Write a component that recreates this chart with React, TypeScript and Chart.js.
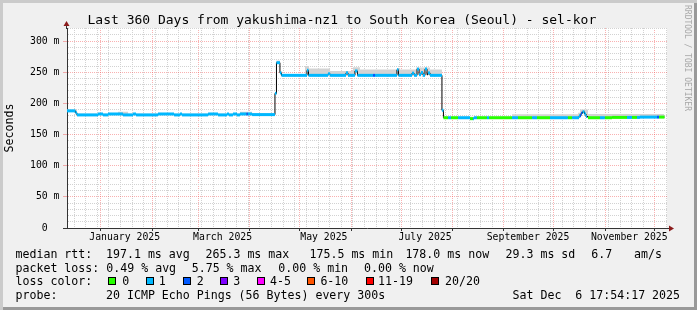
import React, { useEffect, useRef } from 'react';
import { Chart, registerables } from 'chart.js';

Chart.register(...registerables);

const FONT = '"DejaVu Sans Mono", monospace';

// x axis: days since window start (2024-12-11 17:54:17), 360 day window
const START_MS = Date.UTC(2024, 11, 11, 17, 54, 17);
const DAY_MS = 86400000;
const X_MAX = 361.5;
const DATA_END = 360;
const LABEL_OFFSET_DAYS = 14.5;

const monthLabels = ['January 2025', 'March 2025', 'May 2025', 'July 2025', 'September 2025', 'November 2025'];
const monthLabelMonths = [0, 2, 4, 6, 8, 10];

// y axis (milliseconds)
const Y_MAX = 321;
const yTickValues = [0, 50, 100, 150, 200, 250, 300];
const yTickLabels = ['0  ', '50 m', '100 m', '150 m', '200 m', '250 m', '300 m'];

// median rtt (ms), step changes
const medianDays = [
  0, 5.1, 6.0, 18.7, 21.7, 24.7, 33.7, 39.8, 41.6, 54.8, 64.5, 68.1, 69.3, 85.0, 91.0, 96.4, 97.6, 100.0, 102.4, 104.2, 111.5,
  125.3, 126.2, 128.3, 129.2, 144.6, 145.5, 157.3, 158.5, 168.1, 169.3, 173.5, 175.0, 198.8, 199.7, 207.9, 209.1, 210.9, 212.1,
  213.3, 214.5, 215.7, 216.9, 217.5, 218.7, 225.9,
  226.8, 242.8, 245.2, 308.5, 309.7, 310.6, 311.8, 312.7, 313.9, 328.4, 345.2,
];
const medianMs = [
  188, 185, 181.5, 183, 181.5, 183, 181.5, 183, 181.5, 183, 181.5, 183, 181.5, 183, 181.5, 183, 181.5, 183, 181.5, 183, 182,
  216, 265.3, 249, 245, 253, 245, 247.5, 245, 249, 245, 252, 245, 254, 245, 248.5, 245, 255, 246,
  249.5, 245, 255, 246, 249, 245, 189,
  177, 175.5, 177, 180, 184, 186.5, 183, 179, 177, 177.5, 178,
];

// packet loss bucket (index into lossColors), step changes
const lossDays = [
  0, 108.2, 109.0, 184.4, 185.6, 226.8, 229.6, 231.4, 235.6, 242.8, 244.6, 247.0, 253.0, 254.3, 268.1, 271.7, 280.2, 283.2,
  291.0, 301.8, 304.3, 309.1, 310.3, 313.3, 321.1, 324.1, 337.4, 340.4, 343.4, 355.5, 356.7,
];
const lossLevel = [
  1, 2, 1, 2, 1, 0, 1, 0, 1, 0, 1, 0, 1, 0, 1, 0, 1, 0,
  1, 0, 1, 2, 1, 0, 1, 0, 1, 0, 1, 2, 0,
];

// smoke (upper edge of ping spread, ms), step changes
const smokeDays = [
  0, 6.0, 30.7, 36.8, 104.2, 111.5, 125.3, 126.2, 128.3, 129.5, 143.4, 145.8, 158.5, 172.3, 176.5, 198.8, 200.6, 210.3,
  218.7, 225.9, 226.8, 268.1, 307.9, 309.1, 313.9,
];
const smokeHighMs = [
  190, 183.5, 186.5, 183.5, 186.5, 184, 218, 269, 251, 247, 260, 256, 252, 258, 254.5, 257, 254.5, 257.5,
  254.5, 190, 178.5, 182.5, 185, 190, 183,
];

const lossColors = ['#26ff00', '#00b8ff', '#0059ff', '#7e00ff', '#ff00ff', '#ff5500', '#ff0000', '#a10000'];
const lossNames = ['0', '1', '2', '3', '4-5', '6-10', '11-19', '20/20'];

const AXIS = '#333333';
const ARROW = '#8b1c1c';
const GRID_MINOR = '#d2d2d2';
const GRID_MAJOR = 'rgba(240,70,70,0.42)';
const SMOKE = '#d3d3d3';

// ---------- derived tables for chart.js ----------
type XT = { v: number; kind: 'week' | 'month' | 'label'; text: string };
const dayOf = (y: number, m: number, d: number) => (Date.UTC(y, m, d) - START_MS) / DAY_MS;
const monthStarts: number[] = [];
for (let m = 0; m < 12; m++) monthStarts.push(dayOf(2025, m, 1));
const xTicks: XT[] = [];
for (let t = Date.UTC(2024, 11, 16); ; t += 7 * DAY_MS) {
  const d = (t - START_MS) / DAY_MS;
  if (d > X_MAX) break;
  if (!monthStarts.some((ms) => Math.abs(ms - d) < 0.01)) xTicks.push({ v: d, kind: 'week', text: '' });
}
monthStarts.forEach((d) => xTicks.push({ v: d, kind: 'month', text: '' }));
monthLabelMonths.forEach((m, i) => xTicks.push({ v: dayOf(2025, m, 1) + LABEL_OFFSET_DAYS, kind: 'label', text: monthLabels[i] }));
xTicks.sort((a, b) => a.v - b.v);

const yGrid: number[] = [];
for (let v = 0; v <= 320; v += 10) yGrid.push(v);

const stepAt = (days: number[], vals: number[], d: number) => {
  let v = vals[0];
  for (let i = 0; i < days.length; i++) if (days[i] <= d + 1e-9) v = vals[i];
  return v;
};
const breaks = Array.from(new Set([...medianDays, ...lossDays])).filter((d) => d < DATA_END).sort((a, b) => a - b);
const pieces = breaks.map((a, i) => ({
  a,
  b: i + 1 < breaks.length ? breaks[i + 1] : DATA_END,
  v: stepAt(medianDays, medianMs, a),
  c: stepAt(lossDays, lossLevel, a),
}));
const pieceData: { x: number; y: number | null }[] = [];
pieces.forEach((p) => {
  pieceData.push({ x: p.a, y: p.v }, { x: p.b, y: p.v }, { x: p.b, y: null });
});
const medianData = medianDays.map((d, i) => ({ x: d, y: medianMs[i] }));
medianData.push({ x: DATA_END, y: medianMs[medianMs.length - 1] });
const smokeData = smokeDays.map((d, i) => ({ x: d, y: smokeHighMs[i] }));
smokeData.push({ x: DATA_END, y: smokeHighMs[smokeHighMs.length - 1] });

const plotBg = {
  id: 'plotBg',
  beforeDraw(chart: any) {
    const { ctx, chartArea } = chart;
    ctx.save();
    ctx.fillStyle = '#ffffff';
    ctx.fillRect(chartArea.left, chartArea.top, chartArea.right - chartArea.left, chartArea.bottom - chartArea.top);
    ctx.restore();
  },
};

const axisArrows = {
  id: 'axisArrows',
  afterDraw(chart: any) {
    const { ctx, chartArea } = chart;
    const { left, right, top, bottom } = chartArea;
    const lx = Math.round(left) - 0.5;
    const by = Math.round(bottom) + 0.5;
    ctx.save();
    ctx.strokeStyle = AXIS;
    ctx.lineWidth = 1;
    ctx.beginPath();
    ctx.moveTo(lx, top + 1);
    ctx.lineTo(lx, top - 3);
    ctx.moveTo(right - 1, by);
    ctx.lineTo(right + 3, by);
    ctx.moveTo(left - 4, by);
    ctx.lineTo(left, by);
    ctx.stroke();
    ctx.fillStyle = ARROW;
    ctx.beginPath();
    ctx.moveTo(lx, top - 7);
    ctx.lineTo(lx - 3, top - 2);
    ctx.lineTo(lx + 3, top - 2);
    ctx.closePath();
    ctx.fill();
    ctx.beginPath();
    ctx.moveTo(right + 7, by);
    ctx.lineTo(right + 2, by - 3);
    ctx.lineTo(right + 2, by + 3);
    ctx.closePath();
    ctx.fill();
    ctx.restore();
  },
};

const legendLines: { top: number; items: [number, string][] }[] = [
  {
    top: 246.5,
    items: [
      [15.5, 'median rtt:'], [106, '197.1 ms avg'], [205.5, '265.3 ms max'], [309.5, '175.5 ms min'],
      [405.4, '178.0 ms now'], [505.5, '29.3 ms sd'], [591.3, '6.7'], [634, 'am/s'],
    ],
  },
  {
    top: 260.5,
    items: [[15.5, 'packet loss:'], [106.3, '0.49 % avg'], [191.7, '5.75 % max'], [278.3, '0.00 % min'], [364, '0.00 % now']],
  },
  { top: 274.3, items: [[15.5, 'loss color:']] },
  {
    top: 288.3,
    items: [[15.5, 'probe:'], [106, '20 ICMP Echo Pings (56 Bytes) every 300s'], [512.5, 'Sat Dec  6 17:54:17 2025']],
  },
];
const lossBoxX = [108.3, 145.7, 182.7, 220, 257.3, 307.3, 365.7, 430.7];
const lossTextX = [122.3, 158.7, 196.7, 233.3, 270, 320.4, 378, 445];

export default function App() {
  const ref = useRef<HTMLCanvasElement>(null);

  useEffect(() => {
    document.body.style.margin = '0';
    const canvas = ref.current;
    if (!canvas) return;
    const kindAt = (i: number) => (xTicks[i] ? xTicks[i].kind : 'label');
    const chart = new Chart(canvas, {
      type: 'line',
      data: {
        datasets: [
          {
            label: 'median by loss',
            data: pieceData as any,
            borderWidth: 3,
            borderColor: lossColors[1],
            borderCapStyle: 'butt',
            segment: {
              borderColor: (ctx: any) => {
                const p = pieces[Math.floor(ctx.p0DataIndex / 3)];
                return lossColors[p ? p.c : 1];
              },
            },
            pointRadius: 0,
            spanGaps: false,
            fill: false,
            order: 0,
          } as any,
          {
            label: 'median',
            data: medianData as any,
            stepped: 'before',
            borderWidth: 1,
            borderColor: '#000000',
            pointRadius: 0,
            fill: false,
            order: 1,
          } as any,
          {
            label: 'smoke',
            data: smokeData as any,
            stepped: 'before',
            borderWidth: 0,
            borderColor: 'rgba(0,0,0,0)',
            pointRadius: 0,
            fill: { target: 1, above: SMOKE, below: 'rgba(0,0,0,0)' },
            order: 2,
          } as any,
        ],
      },
      options: {
        animation: false,
        responsive: false,
        maintainAspectRatio: false,
        devicePixelRatio: 1,
        events: [],
        layout: { padding: { top: 28, right: 30, bottom: 60, left: 0 } },
        plugins: { legend: { display: false }, tooltip: { enabled: false }, title: { display: false } },
        scales: {
          x: {
            type: 'linear',
            min: 0,
            max: X_MAX,
            afterBuildTicks: (s: any) => {
              s.ticks = xTicks.map((t) => ({ value: t.v }));
            },
            afterFit: (s: any) => {
              s.height = 22;
            },
            ticks: {
              autoSkip: false,
              maxRotation: 0,
              minRotation: 0,
              padding: 1,
              color: '#000000',
              font: { family: FONT, size: 9.8 },
              callback: (_v: any, i: number) => (xTicks[i] ? xTicks[i].text : ''),
            },
            grid: {
              color: (c: any) => (kindAt(c.index) === 'month' ? GRID_MAJOR : GRID_MINOR),
              lineWidth: (c: any) => (kindAt(c.index) === 'label' ? 0 : 1),
              tickLength: 3,
              tickColor: (c: any) => (kindAt(c.index) === 'month' ? AXIS : 'rgba(0,0,0,0)'),
              tickWidth: (c: any) => (kindAt(c.index) === 'month' ? 1 : 0),
            },
            border: { display: true, color: AXIS, width: 1, dash: [1, 1] },
          },
          y: {
            type: 'linear',
            min: 0,
            max: Y_MAX,
            afterBuildTicks: (s: any) => {
              s.ticks = yGrid.map((v) => ({ value: v }));
            },
            afterFit: (s: any) => {
              s.width = 67;
            },
            ticks: {
              autoSkip: false,
              padding: 3.5,
              color: '#000000',
              font: { family: FONT, size: 9.8 },
              callback: (v: any) => {
                const i = yTickValues.indexOf(Number(v));
                return i >= 0 ? yTickLabels[i] : '';
              },
            },
            grid: {
              color: (c: any) => {
                const v = c.tick ? c.tick.value : 0;
                return v % 50 === 0 ? GRID_MAJOR : GRID_MINOR;
              },
              lineWidth: 1,
              tickLength: 4,
              tickColor: (c: any) => {
                const v = c.tick ? c.tick.value : 1;
                return v === 0 ? AXIS : v % 50 === 0 ? GRID_MAJOR : 'rgba(0,0,0,0)';
              },
            },
            border: { display: true, color: AXIS, width: 1, dash: [1, 1] },
            title: {
              display: true,
              text: 'Seconds',
              color: '#000000',
              font: { family: FONT, size: 11.6 },
              padding: { top: 3, bottom: 0 },
            },
          },
        },
      } as any,
      plugins: [plotBg, axisArrows],
    });
    return () => chart.destroy();
  }, []);

  const textBase: React.CSSProperties = {
    position: 'absolute',
    fontFamily: FONT,
    fontSize: 11.6,
    lineHeight: '14px',
    whiteSpace: 'pre',
    color: '#000000',
  };

  return (
    <div
      style={{
        position: 'fixed',
        left: 0,
        top: 0,
        width: 697,
        height: 310,
        background: '#f0f0f0',
        boxShadow: 'inset 3px 3px 0 #cbcbcb, inset -3px -3px 0 #999999',
        overflow: 'hidden',
      }}
    >
      <canvas ref={ref} width={697} height={310} style={{ position: 'absolute', left: 0, top: 0, width: 697, height: 310 }} />
      <div
        style={{
          position: 'absolute',
          left: 87.5,
          top: 12,
          fontFamily: FONT,
          fontSize: 13,
          lineHeight: '15px',
          whiteSpace: 'pre',
          color: '#000000',
        }}
      >
        Last 360 Days from yakushima-nz1 to South Korea (Seoul) - sel-kor
      </div>
      <div
        style={{
          position: 'absolute',
          left: 692,
          top: 5,
          transform: 'rotate(90deg)',
          transformOrigin: '0 0',
          fontFamily: FONT,
          fontSize: 8,
          lineHeight: '10px',
          whiteSpace: 'pre',
          color: '#a8a8a8',
        }}
      >
        RRDTOOL / TOBI OETIKER
      </div>
      {legendLines.map((line, li) =>
        line.items.map(([x, t], ii) => (
          <span key={`l${li}-${ii}`} style={{ ...textBase, left: x, top: line.top }}>
            {t}
          </span>
        )),
      )}
      {lossNames.map((name, i) => (
        <React.Fragment key={name}>
          <span
            style={{
              position: 'absolute',
              left: lossBoxX[i],
              top: 277,
              width: 8,
              height: 8,
              boxSizing: 'border-box',
              border: '1px solid #000000',
              background: lossColors[i],
            }}
          />
          <span style={{ ...textBase, left: lossTextX[i], top: 274.3 }}>{name}</span>
        </React.Fragment>
      ))}
    </div>
  );
}
